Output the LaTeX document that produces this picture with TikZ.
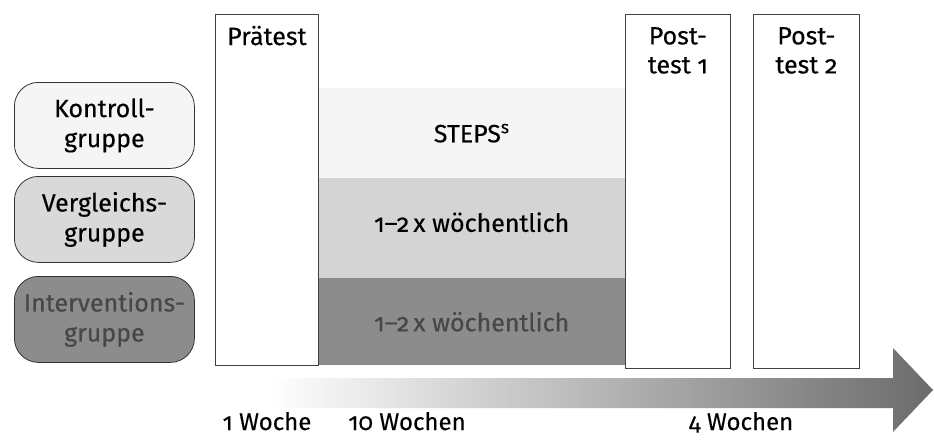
\documentclass[tikz,border=0pt]{standalone}
\usepackage{fontspec}
\setmainfont{Fira Sans}[Numbers=OldStyle, FakeBold=0.3]
\begin{document}
\begin{tikzpicture}[x=1pt,y=-1pt,
  lbl/.style={font=\fontsize{25}{29}\selectfont, align=center, inner sep=0},
  wk/.style={font=\fontsize{24}{29}\selectfont, inner sep=0, anchor=base},
  testbox/.style={draw=black!75, line width=0.8pt, fill=white, anchor=north west, inner sep=0},
  band/.style={draw=none, anchor=north west, inner sep=0, minimum width=307pt},
  grp/.style={draw=black!80, line width=0.8pt, rounded corners=24pt, anchor=north west,
    minimum width=180pt, minimum height=86pt, inner sep=0, align=center,
    font=\fontsize{25}{30}\selectfont}]
\useasboundingbox (0,0) rectangle (934,439);
\fill[white] (0,0) rectangle (934,439);
% group boxes
\node[grp, fill=black!4] (kg) at (14,82) {Kontroll-\\gruppe};
\node[grp, fill=black!15] (vg) at (14,176) {Vergleichs-\\gruppe};
\node[grp, fill=black!45, text=black!72] (ig) at (14,276) {Interventions-\\gruppe};
% bands
\node[band, fill=black!4, minimum height=90pt] (b1) at (318,88) {};
\node[band, fill=black!17, minimum height=100pt] (b2) at (318,178) {};
\node[band, fill=black!45, minimum height=87pt] (b3) at (318,278) {};
\node[lbl] (t1) at (b1.center) {STEPS\textsuperscript{s}};
\node[lbl] (t2) at ([yshift=6pt]b2.center) {1–2\,x wöchentlich};
\node[lbl, text=black!72] (t3) at (b3.center) {1–2\,x wöchentlich};
% test boxes
\node[testbox, minimum width=103pt, minimum height=351pt] (pre) at (215,14) {};
\node[testbox, minimum width=105pt, minimum height=354pt] (post1) at (625,14) {};
\node[testbox, minimum width=106pt, minimum height=354pt] (post2) at (753,14) {};
\node[lbl, anchor=base] (pret) at ([yshift=-31pt]pre.north) {Prätest};
\node[lbl, anchor=north] (p1t) at ([yshift=-13pt]post1.north) {Post-\\test 1};
\node[lbl, anchor=north] (p2t) at ([yshift=-13pt]post2.north) {Post-\\test 2};
% timeline arrow
\coordinate (as) at (270,393);
\coordinate (tip) at (933,390);
\shade[left color=white, middle color=black!35, right color=black!58]
  (270,378) -- (893,378) -- (893,348) -- (tip) -- (893,432) -- (893,408) -- (270,408) -- cycle;
\node[wk] (w1) at (267,430) {1 Woche};
\node[wk] (w2) at (407,430) {10 Wochen};
\node[wk] (w3) at (741,430) {4 Wochen};
\end{tikzpicture}
\end{document}
